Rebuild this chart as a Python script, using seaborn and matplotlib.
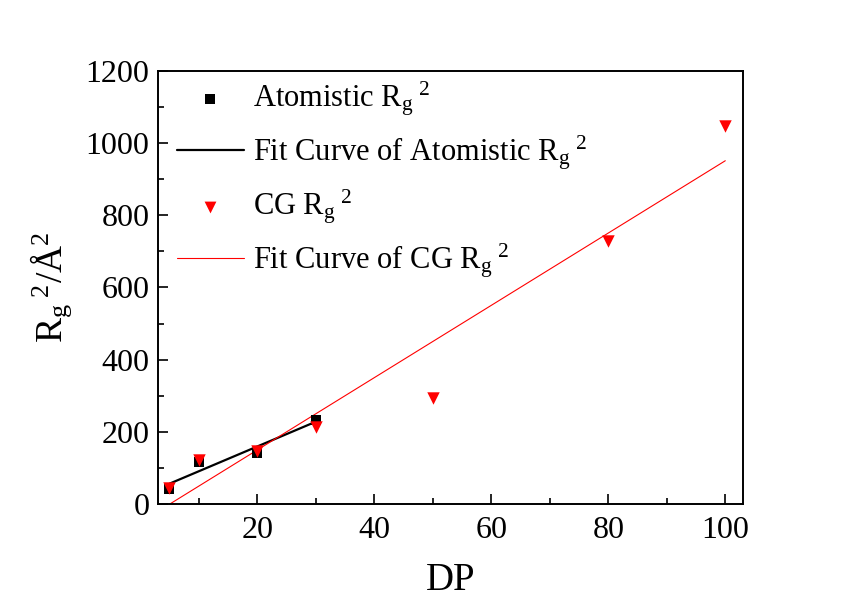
import matplotlib
matplotlib.use("Agg")
import matplotlib.pyplot as plt
import seaborn as sns
import numpy as np
import pandas as pd
from matplotlib.ticker import MultipleLocator

# ---- data ----
atom_dp = [5, 10, 20, 30]
atom_rg2 = [42, 117, 142, 233]
cg_dp = [5, 10, 20, 30, 50, 80, 100]
cg_rg2 = [45, 122, 147, 214, 295, 730, 1047]

lab_atom = r"Atomistic R$_\mathrm{g}$$^\mathrm{\ 2}$"
lab_atom_fit = r"Fit Curve of Atomistic R$_\mathrm{g}$$^\mathrm{\ 2}$"
lab_cg = r"CG R$_\mathrm{g}$$^\mathrm{\ 2}$"
lab_cg_fit = r"Fit Curve of CG R$_\mathrm{g}$$^\mathrm{\ 2}$"

sns.set_theme(style="ticks")
plt.rcParams["font.family"] = ["Liberation Serif", "DejaVu Serif"]
plt.rcParams["mathtext.fontset"] = "custom"
plt.rcParams["mathtext.rm"] = "Liberation Serif"
plt.rcParams["mathtext.it"] = "Liberation Serif:italic"
plt.rcParams["mathtext.bf"] = "Liberation Serif:bold"
for k in ["text.color", "axes.labelcolor", "xtick.color", "ytick.color", "axes.edgecolor"]:
    plt.rcParams[k] = "black"

atom_df = pd.DataFrame({"DP": atom_dp, "Rg2": atom_rg2})
cg_df = pd.DataFrame({"DP": cg_dp, "Rg2": cg_rg2})

fig = plt.figure(figsize=(8.48, 5.99), dpi=100)
fig.patch.set_facecolor("white")
ax = fig.add_axes([0.186, 0.1586, 0.69, 0.723])

sns.regplot(data=atom_df, x="DP", y="Rg2", ax=ax, scatter=False, ci=None,
            truncate=True, color="black", line_kws={"lw": 1.6})
atom_fit_line = ax.lines[-1]
sns.regplot(data=cg_df, x="DP", y="Rg2", ax=ax, scatter=False, ci=None,
            truncate=True, color="#ff0000", line_kws={"lw": 0.8})
cg_fit_line = ax.lines[-1]
sns.scatterplot(data=atom_df, x="DP", y="Rg2", ax=ax, marker="s", s=50,
                color="black", linewidth=0, zorder=3)
atom_pts = ax.collections[-1]
sns.scatterplot(data=cg_df, x="DP", y="Rg2", ax=ax, marker="v", s=80,
                color="#ff0000", linewidth=0, zorder=4)
cg_pts = ax.collections[-1]

ax.set_xlim(3, 103)
ax.set_ylim(0, 1200)
ax.xaxis.set_major_locator(MultipleLocator(20))
ax.xaxis.set_minor_locator(MultipleLocator(10))
ax.yaxis.set_major_locator(MultipleLocator(200))
ax.yaxis.set_minor_locator(MultipleLocator(100))
ax.tick_params(which="both", direction="in", top=False, right=False, width=1.2,
               colors="black")
ax.tick_params(which="major", length=7, labelsize=23)
ax.tick_params(axis="x", which="major", pad=9)
ax.tick_params(axis="y", which="major", pad=6)
ax.tick_params(which="minor", length=4)
for sp in ax.spines.values():
    sp.set_visible(True)
    sp.set_linewidth(1.4)
    sp.set_color("black")

ax.set_xlabel("DP", fontsize=28, labelpad=12, color="black")
ax.set_ylabel(r"R$_\mathrm{g}$$^\mathrm{\ 2}$/Å$^\mathrm{2}$", fontsize=27, labelpad=8,
              color="black")

leg = ax.legend([atom_pts, atom_fit_line, cg_pts, cg_fit_line],
                [lab_atom, lab_atom_fit, lab_cg, lab_cg_fit], loc="upper left",
                bbox_to_anchor=(0.006, 1.016),
                frameon=False, fontsize=22, handlelength=2.2, handletextpad=0.3,
                labelspacing=0.5, markerscale=0.95, borderaxespad=0.1)
for t in leg.get_texts():
    t.set_color("black")

fig.savefig("out.png", dpi=100, facecolor="white")
